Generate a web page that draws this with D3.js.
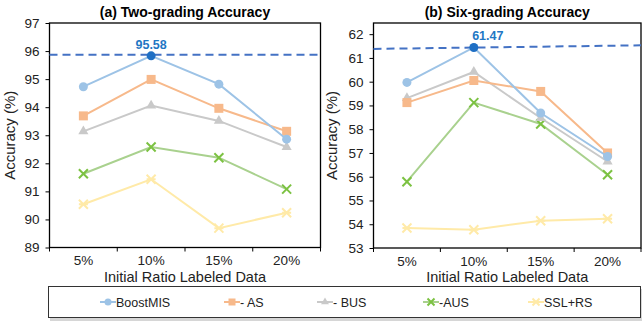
<!DOCTYPE html>
<html>
<head>
<meta charset="utf-8">
<script src="https://cdn.jsdelivr.net/npm/d3@7"></script>
<style>
  body { margin:0; background:#fff; }
  text { font-family: "Liberation Sans", Arial, sans-serif; }
</style>
</head>
<body>
<script>
var categories = ["5%","10%","15%","20%"];
var seriesNames = ["BoostMIS","- AS","- BUS","-AUS","SSL+RS"];

// (a) two-grading
var twoBoost = [94.73, 95.83, 94.82, 92.86],
    twoAS    = [93.69, 94.99, 93.96, 93.14],
    twoBUS   = [93.14, 94.06, 93.51, 92.58],
    twoAUS   = [91.63, 92.58, 92.20, 91.08],
    twoSSL   = [90.54, 91.43, 89.69, 90.24];
var twoTicks = [89,90,91,92,93,94,95,96,97];
var twoBest = 95.87, twoLabel = "95.58";

// (b) six-grading
var sixBoost = [59.97, 61.44, 58.68, 56.85],
    sixAS    = [59.12, 60.05, 59.59, 57.00],
    sixBUS   = [59.31, 60.41, 58.47, 56.64],
    sixAUS   = [55.79, 59.12, 58.22, 56.08],
    sixSSL   = [53.84, 53.77, 54.15, 54.23];
var sixTicks = [53,54,55,56,57,58,59,60,61,62];
var sixBest = [61.38, 61.53], sixLabel = "61.47";

var colors = ["#9dc3e6","#f7b98b","#c9c9c9","#a9d18e","#ffeaa8"];
var markColors = ["#9dc3e6","#f7b98b","#c9c9c9","#7cc242","#ffeaa8"];
var shapes = ["circle","square","triangle","x","star"];

var svg = d3.select('body')
            .append('svg')
            .attr('width',642)
            .attr('height',322);

function marker(g, shape, x, y, color, size){
  if(shape=="circle"){
    g.append('circle').attr('cx',x).attr('cy',y).attr('r',size*0.5).attr('fill',color);
  } else if(shape=="square"){
    g.append('rect').attr('x',x-size/2).attr('y',y-size/2).attr('width',size).attr('height',size).attr('fill',color);
  } else if(shape=="triangle"){
    g.append('path').attr('d',d3.symbol(d3.symbolTriangle, size*size*0.55)()).attr('transform','translate('+x+','+y+')').attr('fill',color);
  } else {
    var h = size/2;
    var d = 'M'+(x-h)+','+(y-h)+'L'+(x+h)+','+(y+h)+'M'+(x-h)+','+(y+h)+'L'+(x+h)+','+(y-h);
    if(shape=="star") d += 'M'+(x-h)+','+y+'L'+(x+h)+','+y;
    g.append('path').attr('d',d).attr('stroke',color).attr('stroke-width',2).attr('fill','none');
  }
}

function panel(opt){
  var g = svg.append('g');
  var x = d3.scaleBand().domain(categories).range([opt.left, opt.right]);
  var y = d3.scaleLinear().domain(opt.domain).range([opt.bottom, opt.top]);

  // frame
  g.append('rect').attr('x',opt.left).attr('y',opt.top)
   .attr('width',opt.right-opt.left).attr('height',opt.bottom-opt.top)
   .attr('fill','none').attr('stroke','#000').attr('stroke-width',1.3);

  var yAxis = d3.axisLeft(y).tickValues(opt.ticks).tickSize(4).tickPadding(6);
  var ya = g.append('g').attr('transform','translate('+opt.left+',0)').call(yAxis);
  ya.select('.domain').remove();
  ya.selectAll('text').attr('font-size','13.5px').attr('fill','#222').attr('font-family','Liberation Sans, Arial, sans-serif');

  var xAxis = d3.axisBottom(x).tickSize(0).tickPadding(8);
  var xa = g.append('g').attr('transform','translate(0,'+opt.bottom+')').call(xAxis);
  xa.select('.domain').remove();
  xa.selectAll('text').attr('font-size','13.5px').attr('fill','#222').attr('font-family','Liberation Sans, Arial, sans-serif');
  var bounds = categories.map(function(c){ return x(c); }).concat([opt.right]);
  g.selectAll('.xt').data(bounds).enter().append('line')
   .attr('x1',function(d){return d;}).attr('x2',function(d){return d;})
   .attr('y1',opt.bottom).attr('y2',opt.bottom+4).attr('stroke','#000');

  g.append('text').attr('x',(opt.left+opt.right)/2).attr('y',17)
   .attr('text-anchor','middle').attr('font-size','14px').attr('font-weight','bold').text(opt.title);
  g.append('text').attr('x',(opt.left+opt.right)/2).attr('y',281.5)
   .attr('text-anchor','middle').attr('font-size','14.5px').attr('fill','#222').text('Initial Ratio Labeled Data');
  g.append('text').attr('transform','translate('+opt.ylx+','+((opt.top+opt.bottom)/2)+') rotate(-90)')
   .attr('text-anchor','middle').attr('font-size','15px').attr('fill','#222').text('Accuracy (%)');

  // best dashed line
  g.append('line').attr('x1',opt.left).attr('x2',opt.right)
   .attr('y1',y(opt.best[0])).attr('y2',y(opt.best[1]))
   .attr('stroke','#4472c4').attr('stroke-width',2).attr('stroke-dasharray','8,5');

  var cx = function(i){ return x(categories[i]) + x.bandwidth()/2; };
  var line = d3.line().x(function(d,i){ return cx(i); }).y(function(d){ return y(d); });
  for(var s=opt.series.length-1; s>=0; s--){
    g.append('path').datum(opt.series[s]).attr('d',line)
     .attr('fill','none').attr('stroke',colors[s]).attr('stroke-width',2);
    opt.series[s].forEach(function(v,i){
      var c = markColors[s];
      if(s==0 && i==1) c = '#1f6fc4';
      marker(g, shapes[s], cx(i), y(v), c, 9);
    });
  }
  g.append('text').attr('x',cx(1)+opt.labelDx).attr('y',y(opt.series[0][1])-7)
   .attr('text-anchor','middle').attr('font-size','12.5px').attr('font-weight','bold')
   .attr('fill','#1f77c4').text(opt.label);
}

panel({left:49.5, right:320.5, top:23, bottom:247.5, domain:[89,97], ticks:twoTicks,
       title:'(a) Two-grading Accuracy', ylx:15,
       best:[twoBest,twoBest], label:twoLabel, labelDx:0,
       series:[twoBoost,twoAS,twoBUS,twoAUS,twoSSL]});
panel({left:373.5, right:641, top:23, bottom:248, domain:[53,62.47], ticks:sixTicks,
       title:'(b) Six-grading Accuracy', ylx:337,
       best:sixBest, label:sixLabel, labelDx:14,
       series:[sixBoost,sixAS,sixBUS,sixAUS,sixSSL]});

// legend
var lg = svg.append('g');
lg.append('rect').attr('x',50).attr('y',289).attr('width',592).attr('height',32).attr('fill','#bbb').attr('opacity',0.6);
lg.append('rect').attr('x',48.5).attr('y',286.5).attr('width',592).attr('height',31).attr('fill','#fff').attr('stroke','#333').attr('stroke-width',1);
var legX = [100,224,317,423,528];
seriesNames.forEach(function(n,i){
  lg.append('line').attr('x1',legX[i]).attr('x2',legX[i]+16).attr('y1',302).attr('y2',302)
    .attr('stroke',colors[i]).attr('stroke-width',2);
  marker(lg, shapes[i], legX[i]+8, 302, markColors[i], 7);
  lg.append('text').attr('x',legX[i]+16).attr('y',306.5).attr('font-size','12.5px').attr('fill','#222').text(n);
});
</script>
</body>
</html>
